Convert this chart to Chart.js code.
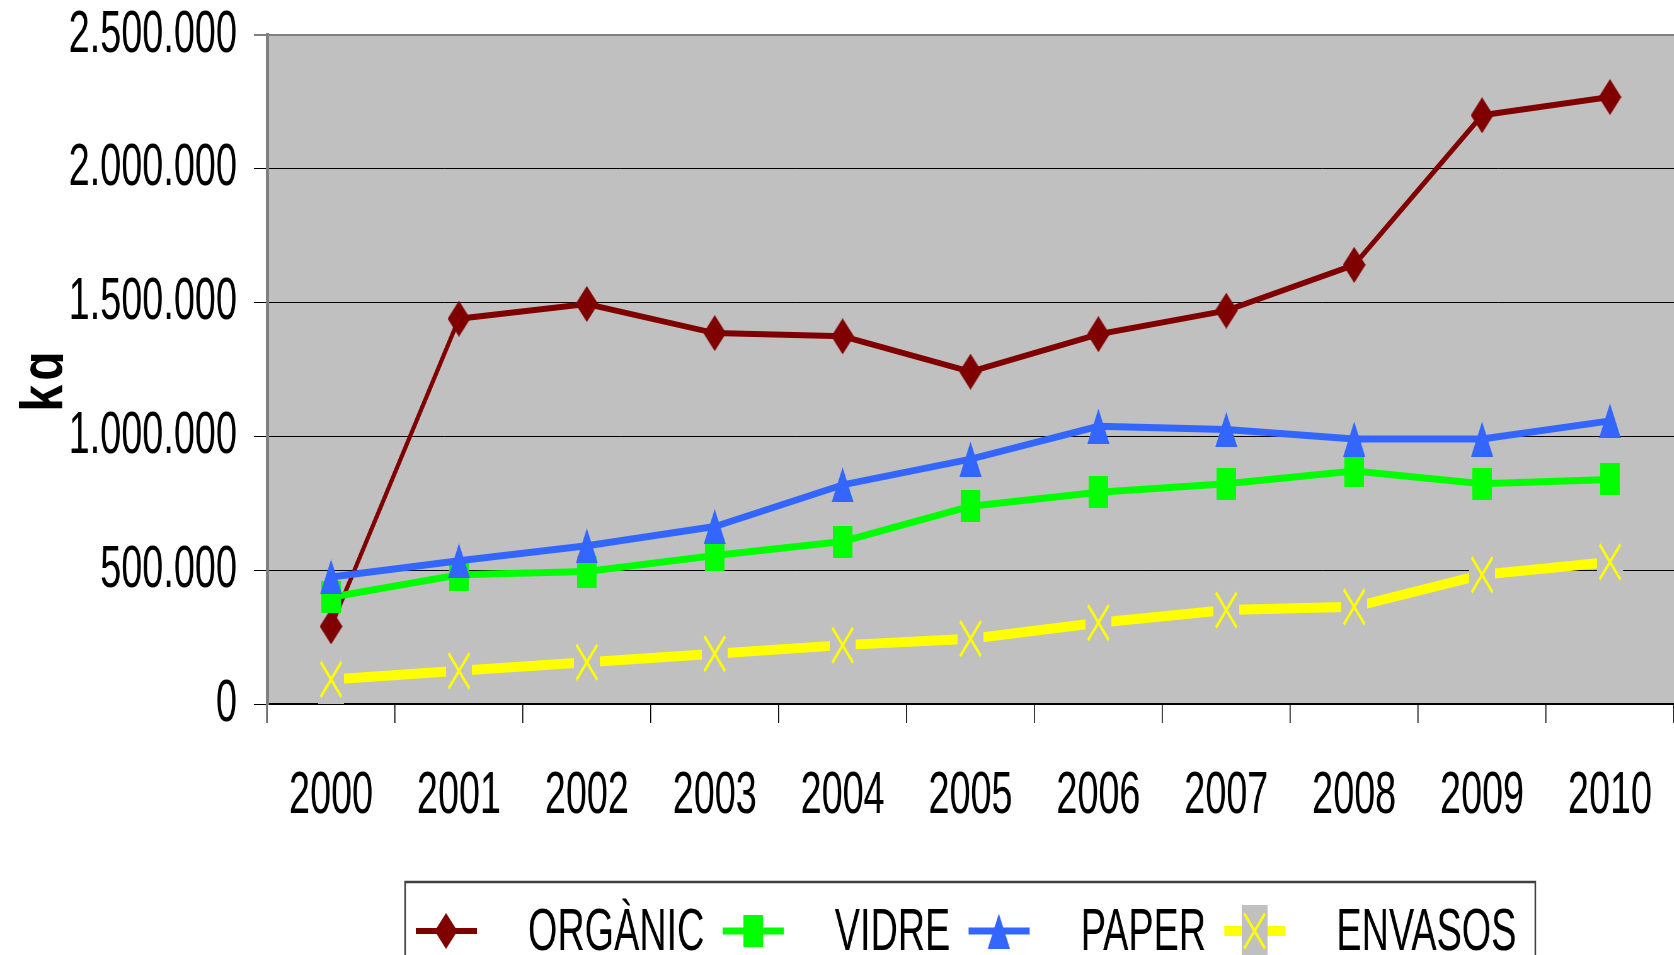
<!DOCTYPE html>
<html>
<head>
<meta charset="utf-8">
<script src="https://cdn.jsdelivr.net/npm/chart.js@4.4.0/dist/chart.umd.min.js"></script>
<style>
  html, body { margin: 0; padding: 0; background: #fff; width: 1674px; height: 955px; overflow: hidden; }
  /* the original is a squeezed office chart, so draw wide and squeeze it the same way */
  #wrap { width: 2657px; height: 955px; transform: scaleX(0.63); transform-origin: 0 0; }
</style>
</head>
<body>
<div id="wrap"><canvas id="chart" width="2657" height="955"></canvas></div>
<script>
// data (kg)
const years = ['2000', '2001', '2002', '2003', '2004', '2005', '2006', '2007', '2008', '2009', '2010'];
const organic = [290000, 1440000, 1495000, 1386000, 1374000, 1242000, 1382000, 1470000, 1641000, 2200000, 2268000];
const vidre = [399000, 483000, 495000, 555000, 607000, 739000, 791000, 823000, 871000, 823000, 839000];
const paper = [475000, 535000, 591000, 663000, 819000, 915000, 1038000, 1026000, 990000, 990000, 1058000];
const envasos = [92000, 124000, 156000, 188000, 220000, 244000, 304000, 351000, 363000, 483000, 531000];
const seriesNames = ['ORGÀNIC', 'VIDRE', 'PAPER', 'ENVASOS'];
const yMin = 0, yMax = 2500000, yStep = 500000;
const yTitle = 'kg';

const FONT = '"Liberation Sans", Arial, sans-serif';

function fmt(v) {
  return String(v).replace(/\B(?=(\d{3})+(?!\d))/g, '.');
}

function makeMarker(w, h, draw) {
  const c = document.createElement('canvas');
  c.width = w;
  c.height = h;
  draw(c.getContext('2d'), w, h);
  return c;
}

const diamond = makeMarker(36, 36, (g, w, h) => {
  g.fillStyle = '#800000';
  g.beginPath();
  g.moveTo(w / 2, 0); g.lineTo(w, h / 2); g.lineTo(w / 2, h); g.lineTo(0, h / 2);
  g.closePath();
  g.fill();
});
const square = makeMarker(31, 32, (g, w, h) => {
  g.fillStyle = '#00ff00';
  g.fillRect(0, 0, w, h);
});
const triangle = makeMarker(35, 35, (g, w, h) => {
  g.fillStyle = '#3366ff';
  g.beginPath();
  g.moveTo(w / 2, 0); g.lineTo(w, h); g.lineTo(0, h);
  g.closePath();
  g.fill();
});
const cross = makeMarker(41, 52, (g, w, h) => {
  g.fillStyle = '#c0c0c0';
  g.fillRect(0, 0, w, h);
  g.strokeStyle = '#ffff00';
  g.lineWidth = 3.5;
  g.beginPath();
  g.moveTo(4, 8.5); g.lineTo(37, 43.5);
  g.moveTo(37, 8.5); g.lineTo(4, 43.5);
  g.stroke();
});

// grey plot area
const plotBg = {
  id: 'plotBg',
  beforeDraw(chart) {
    const { ctx, chartArea: a } = chart;
    ctx.save();
    ctx.fillStyle = '#fff';
    ctx.fillRect(0, 0, chart.width, chart.height);
    ctx.fillStyle = '#c0c0c0';
    ctx.fillRect(a.left, a.top, a.right - a.left, a.bottom - a.top);
    ctx.restore();
  }
};

// rotated axis title, clipped like the original
const axisTitle = {
  id: 'axisTitle',
  afterDraw(chart) {
    const { ctx, chartArea: a } = chart;
    const cy = (a.top + a.bottom) / 2 + 10;
    ctx.save();
    ctx.beginPath();
    ctx.rect(0, 0, 100, chart.height);
    ctx.clip();
    ctx.translate(99, cy);
    ctx.rotate(-Math.PI / 2);
    ctx.scale(0.8, 1.58);
    ctx.font = 'bold 60px ' + FONT;
    ctx.letterSpacing = '5px';
    ctx.fillStyle = '#000';
    ctx.textAlign = 'center';
    ctx.textBaseline = 'alphabetic';
    ctx.fillText(yTitle, 0, 0);
    ctx.restore();
  }
};

// boxed legend at the bottom, runs off the canvas edge
const legendBox = {
  id: 'legendBox',
  afterDraw(chart) {
    const ctx = chart.ctx;
    const left = 643, right = 2437, top = 882;
    const lineY = 931, textY = 950;
    ctx.save();
    ctx.strokeStyle = '#404040';
    ctx.lineWidth = 2.5;
    ctx.strokeRect(left, top, right - left, 200);
    ctx.font = '60px ' + FONT;
    ctx.fillStyle = '#000';
    ctx.textBaseline = 'alphabetic';
    let x = left + 17;
    chart.data.datasets.forEach(ds => {
      ctx.strokeStyle = ds.borderColor;
      ctx.lineWidth = ds.borderWidth;
      ctx.beginPath();
      ctx.moveTo(x, lineY);
      ctx.lineTo(x + 97, lineY);
      ctx.stroke();
      const m = ds.pointStyle;
      ctx.drawImage(m, x + 48 - m.width / 2, lineY - m.height / 2);
      x += 97 + 81;
      ctx.fillText(ds.label, x, textY);
      x += ctx.measureText(ds.label).width + 29;
    });
    ctx.restore();
  }
};

new Chart(document.getElementById('chart'), {
  type: 'line',
  data: {
    labels: years,
    datasets: [
      { label: seriesNames[0], data: organic, borderColor: '#800000', borderWidth: 6, pointStyle: diamond, pointRadius: 10, order: 4 },
      { label: seriesNames[1], data: vidre, borderColor: '#00ff00', borderWidth: 7, pointStyle: square, pointRadius: 10, order: 3 },
      { label: seriesNames[2], data: paper, borderColor: '#3366ff', borderWidth: 7, pointStyle: triangle, pointRadius: 10, order: 2 },
      { label: seriesNames[3], data: envasos, borderColor: '#ffff00', borderWidth: 10, pointStyle: cross, pointRadius: 10, order: 1 }
    ]
  },
  options: {
    responsive: false,
    devicePixelRatio: 1,
    animation: false,
    layout: { autoPadding: false, padding: { top: 35, left: 0, right: 0, bottom: 0 } },
    elements: { line: { tension: 0, fill: false } },
    plugins: {
      legend: { display: false },
      tooltip: { enabled: false }
    },
    scales: {
      x: {
        offset: true,
        grid: { offset: true, drawOnChartArea: false, drawTicks: true, tickLength: 19, color: '#000', lineWidth: 1.6 },
        border: { display: true, color: '#000', width: 2 },
        ticks: { font: { family: FONT, size: 60 }, color: '#000', padding: 37, maxRotation: 0, autoSkip: false },
        afterFit(s) {
          s.height = 251;
          s.paddingLeft = 0;
          s.paddingRight = 0;
        }
      },
      y: {
        min: yMin,
        max: yMax,
        ticks: { stepSize: yStep, font: { family: FONT, size: 60 }, color: '#000', padding: 27, callback: v => fmt(v) },
        grid: {
          color: c => (c.tick && c.tick.value === yMax ? '#808080' : '#000'),
          lineWidth: c => (c.tick && c.tick.value === yMax ? 2 : 1),
          tickLength: 21
        },
        border: { color: '#808080', width: 5 },
        title: { display: false, text: yTitle },
        afterFit(s) {
          s.width = 424;
          s.paddingTop = 0;
          s.paddingBottom = 0;
        }
      }
    }
  },
  plugins: [plotBg, axisTitle, legendBox]
});
</script>
</body>
</html>
